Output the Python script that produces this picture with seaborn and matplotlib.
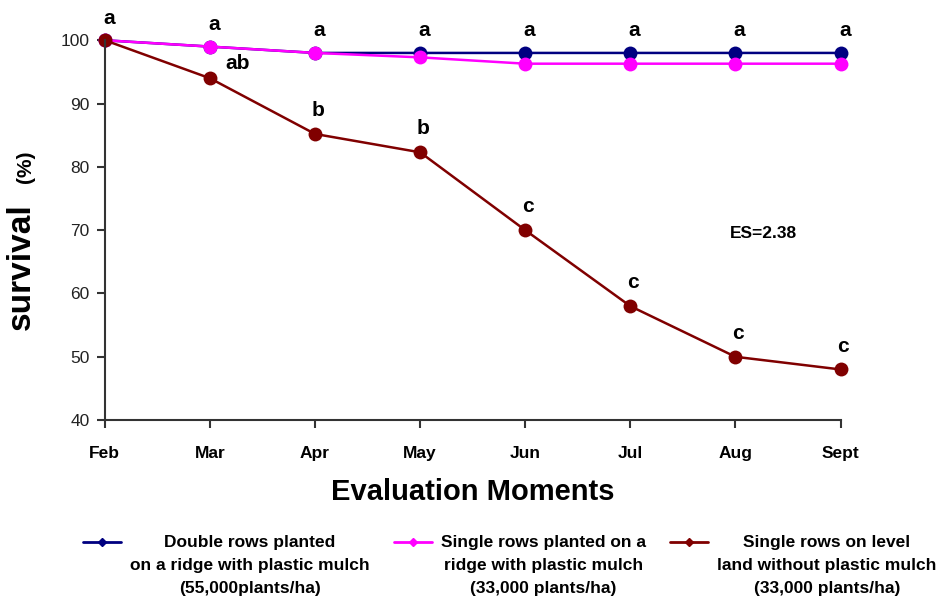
import matplotlib.pyplot as plt
import pandas as pd
import seaborn as sns
from matplotlib.lines import Line2D

# data
months = ["Feb", "Mar", "Apr", "May", "Jun", "Jul", "Aug", "Sept"]
double_ridge = [100, 99, 98, 98, 98, 98, 98, 98]
single_ridge = [100, 99, 98, 97.3, 96.3, 96.3, 96.3, 96.3]
single_level = [100, 94, 85.2, 82.3, 70, 58, 50, 48]
letters_top = ["a", "a", "a", "a", "a", "a", "a", "a"]
letters_level = ["", "ab", "b", "b", "c", "c", "c", "c"]

treatments = [
    "Double rows planted\non a ridge with plastic mulch\n(55,000plants/ha)",
    "Single rows planted on a\nridge with plastic mulch\n(33,000 plants/ha)",
    "Single rows on level\nland without plastic mulch\n(33,000 plants/ha)",
]
colors = ["#000080", "#FF00FF", "#800000"]

rows = []
for name, vals in zip(treatments, [double_ridge, single_ridge, single_level]):
    for i, v in enumerate(vals):
        rows.append({"month": i, "survival": v, "treatment": name})
df = pd.DataFrame(rows)

sns.set_style("ticks")
plt.rcParams["font.family"] = ["Liberation Sans", "DejaVu Sans"]
plt.rcParams["text.color"] = "black"
plt.rcParams["axes.labelcolor"] = "black"

fig = plt.figure(figsize=(9.53, 6.01), dpi=100)
ax = fig.add_axes([0.110, 0.301, 0.772, 0.632])

sns.lineplot(
    data=df,
    x="month",
    y="survival",
    hue="treatment",
    hue_order=treatments,
    palette=colors,
    marker="o",
    markersize=10,
    markeredgewidth=0,
    linewidth=1.8,
    legend=False,
    ax=ax,
)
for line in ax.get_lines():
    line.set_clip_on(False)

ax.set_xlim(0, 7)
ax.set_ylim(40, 100)
ax.set_yticks(range(40, 101, 10))
ax.set_xticks(range(len(months)))
ax.set_xticklabels(months, fontweight="bold", fontsize=12.5)
for t in ax.get_yticklabels():
    t.set_fontsize(12.5)
ax.tick_params(axis="x", length=6, width=1.5, pad=13, colors="#333333", labelcolor="black")
ax.tick_params(axis="y", length=6, width=1.5, pad=5, colors="#333333", labelcolor="#222222")
sns.despine(ax=ax)
for s in ["left", "bottom"]:
    ax.spines[s].set_linewidth(1.5)
    ax.spines[s].set_color("#333333")

ax.set_xlabel("Evaluation Moments", fontsize=21, fontweight="bold", labelpad=12)
ax.set_ylabel("survival", fontsize=24, fontweight="bold")
ax.yaxis.set_label_coords(-0.093, 0.405)
ax.text(-0.108, 0.668, "(%)", transform=ax.transAxes, rotation=90, fontsize=15,
        fontweight="bold", ha="center", va="center")

# significance letters
top_vals = [max(a, b) for a, b in zip(double_ridge, single_ridge)]
for i, (lab, v) in enumerate(zip(letters_top, top_vals)):
    ax.annotate(lab, (i, v), xytext=(3, 9), textcoords="offset points",
                ha="center", va="bottom", fontsize=15, fontweight="bold",
                annotation_clip=False)
for i, (lab, v) in enumerate(zip(letters_level, single_level)):
    if not lab:
        continue
    off = (20, 4) if lab == "ab" else (2, 10)
    ax.annotate(lab, (i, v), xytext=off, textcoords="offset points",
                ha="center", va="bottom", fontsize=15, fontweight="bold")

ax.text(6.27, 69.5, "ES=2.38", fontsize=12.5, fontweight="bold", ha="center", va="center")

handles = [Line2D([], [], color=c, lw=2, marker="D", markersize=4) for c in colors]
leg = fig.legend(handles, treatments, loc="upper center", bbox_to_anchor=(0.535, 0.135),
                 ncol=3, frameon=False, handlelength=2.2, handletextpad=0.5,
                 columnspacing=1.4, prop={"weight": "bold", "size": 12.5})
for t in leg.get_texts():
    t.set_multialignment("center")
    t.set_linespacing(1.65)
for col in leg._legend_handle_box.get_children():
    for row in col.get_children():
        row.align = "top"

plt.savefig("out.png", dpi=100)
